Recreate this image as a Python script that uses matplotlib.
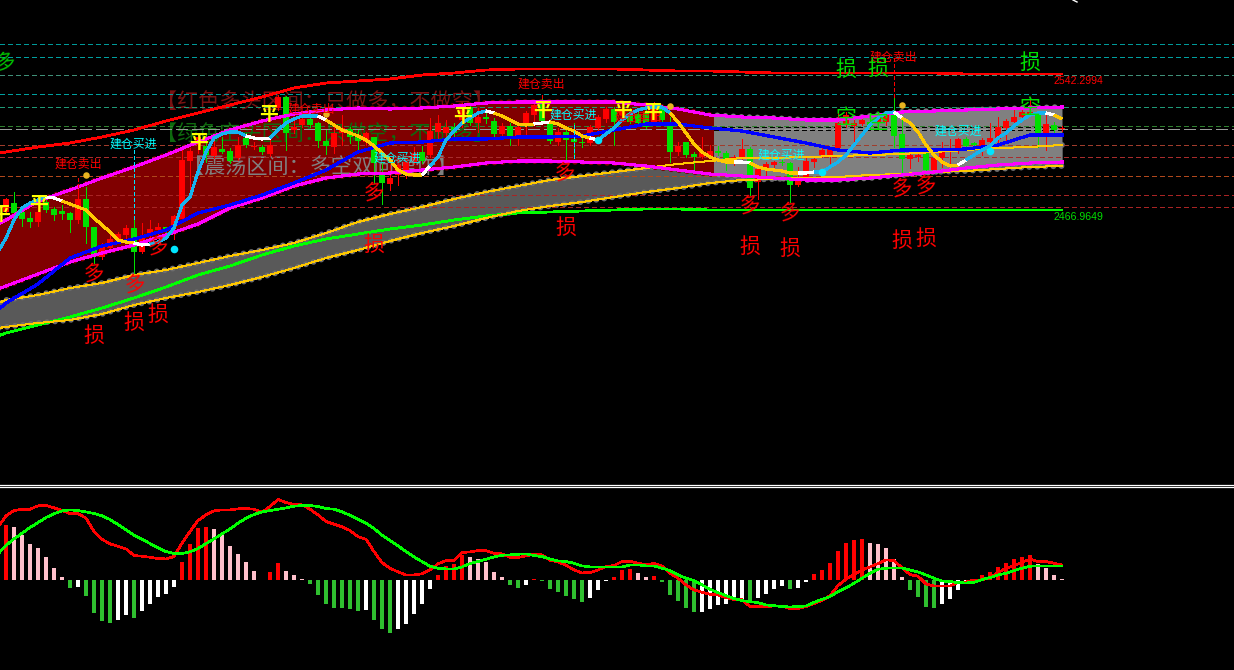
import matplotlib
matplotlib.use("Agg")
import matplotlib.pyplot as plt
import numpy as np
from matplotlib.patches import Rectangle

plt.rcParams['font.family'] = ['Noto Sans CJK SC', 'DejaVu Sans']

# candles, levels are read as rows of the main panel (0 at the top, larger is lower price)
bar_high = [198,192,207,212,197,198,207,205,212,185,187,227,243,235,232,225,220,223,220,223,227,215,150,148,135,135,137,137,148,137,
            133,142,145,138,95,96,120,115,113,122,130,127,115,127,130,132,137,163,165,160,158,147,146,118,115,120,123,103,105,108,
            113,118,123,123,125,111,102,95,120,128,130,123,137,125,115,107,107,107,108,112,108,102,105,117,142,142,152,137,145,146,
            151,155,139,147,168,162,161,159,162,167,158,157,148,147,109,112,118,118,113,112,113,98,118,152,153,152,155,142,139,138,
            137,142,138,123,117,119,110,110,99,112,115,122,126]
bar_top = [199,203,212,218,212,202,209,211,213,199,199,227,245,239,234,228,228,237,229,227,227,216,160,151,137,146,147,149,151,145,
           138,146,147,145,97,97,127,119,119,123,141,133,128,129,137,133,137,174,178,165,162,153,152,131,123,127,127,110,107,117,
           117,121,126,126,127,113,105,102,123,132,132,139,142,127,117,109,109,110,113,114,112,108,108,126,146,142,154,152,151,151,
           153,157,149,149,169,164,162,162,163,180,161,159,150,147,123,115,123,120,122,117,115,113,134,155,155,153,158,152,150,139,
           139,143,140,138,127,121,117,112,112,113,124,125,128]
bar_bot = [212,213,219,222,222,210,215,214,220,220,227,254,257,248,240,235,252,252,236,230,231,227,219,161,145,155,156,152,161,158,
           145,147,152,154,108,133,130,125,125,141,146,147,133,137,141,142,163,183,184,175,172,162,161,155,132,133,133,120,123,123,
           119,134,134,136,136,124,115,121,141,142,140,142,143,143,128,119,122,115,122,123,127,123,120,152,152,155,157,157,156,153,
           159,162,159,188,182,170,165,163,185,185,177,162,155,156,148,125,126,124,127,123,122,136,159,159,157,170,170,158,152,148,
           146,145,147,142,139,128,122,117,115,134,134,130,129]
bar_low = [213,222,226,227,226,212,220,219,232,223,243,263,259,250,243,238,273,253,238,237,239,239,220,193,153,162,158,153,163,160,
           147,149,154,156,110,150,133,127,127,147,154,153,145,143,153,145,183,204,190,185,178,164,163,157,140,140,137,127,125,132,
           123,137,138,145,145,137,123,122,143,145,162,157,147,145,133,122,145,120,123,125,128,125,122,162,155,157,169,158,158,155,
           170,165,163,195,199,175,167,165,202,186,177,167,157,163,150,127,143,125,129,128,125,147,172,168,161,171,172,167,168,153,
           147,147,155,148,148,140,125,118,116,147,150,133,131]
bar_dir = ("rgggrggggr" "ggrrrrgrrr" "grrrrgrggr" "grgrrgrrgg" "grrggrggrr" "rrgrrrgrgr" "ggrgrrrggr"
           "gggrrrgrgg" "grggrggrrg" "grrgrrrggr" "rrrrrrrrgr" "rggrrgrrrr" "ggrrrrrrrg" "rgr")

# slow curves were read every fourth bar
knots = [-1] + list(range(0, 133, 4))
upper_red = [153,152,147,143,137,130,121,113,105,97,88,83,81,79,75,73,70,69,69,69,69,70,71,71,72,73,73,73,73,73,73,74,74,74,74]
lower_green = [336,333,325,317,308,298,287,275,266,255,246,239,234,229,225,220,216,213,212,211,210,209,209,210,210,210,210,210,210,210,210,210,210,210,210]
chan_top = [224,220,201,190,178,167,155,142,130,121,114,110,108,109,108,106,103,102,102,102,102,105,109,115,117,118,120,120,116,112,111,110,109,108,107]
chan_bot = [289,286,274,262,253,245,235,224,208,198,186,178,174,173,170,167,163,161,161,162,163,166,170,174,176,178,180,180,178,175,172,168,165,163,162]
band_top = [303,300,295,288,283,275,270,263,256,250,243,233,222,214,207,199,192,186,180,176,172,168,164,161,158,158,157,156,155,154,152,150,148,147,145]
band_bot = [328,327,323,320,314,305,298,292,285,277,268,258,250,241,233,226,218,211,206,202,197,192,188,183,180,179,178,177,175,174,172,171,169,167,166]
blue_line = [310,303,284,258,246,239,230,213,205,195,183,170,152,143,142,139,139,137,137,136,130,124,124,128,131,137,143,150,153,150,150,149,145,135,135]

osc_line = [238,220,208,203,200,197,198,201,204,207,210,218,225,232,240,242,243,245,244,242,238,228,205,197,172,152,138,134,132,132,
            136,138,139,138,130,123,119,116,116,116,120,125,130,133,136,140,146,153,160,170,174,175,175,166,157,140,131,123,118,113,
            111,113,116,120,124,125,124,123,122,124,128,131,136,138,140,134,128,120,114,110,108,107,107,113,122,133,144,152,157,160,
            162,162,162,163,167,169,170,171,173,173,173,172,172,167,162,155,145,135,125,118,113,112,118,123,132,145,155,162,166,165,
            160,155,150,146,138,133,126,120,115,113,113,115,119]
osc_kind = ("ccccc" "ww" "yyyyyyyyy" "ww" "cccccccccccc" "www" "cccccc" "w" "yyyyyyyyyyyy" "w" "ccccccc" "w" "yyyyy" "ww" "yyyyy"
            "w" "ccccccccc" "yyyyyyyy" "ww" "yyyyyy" "ww" "cccccccccc" "w" "yyyyyyy" "w" "cccccccccc" "w" "yy")

level_rows = [44,57,75,94,107,126,145,157,176,195,207]
level_cols = ['#009a9a','#00a0a0','#3f8f78','#00a0a0','#1f9a78','#2f7f2f','#a03c2c','#a82c2c','#b0481c','#a82424','#a82424']

# MACD panel, heights measured from the zero line
macd_hist = [165,159,135,108,96,69,36,9,-24,-21,-48,-99,-123,-129,-120,-105,-114,-93,-72,-51,-42,-21,54,108,156,159,153,135,102,78,
             54,27,-1,24,51,27,15,2,-12,-45,-72,-84,-84,-87,-93,-90,-120,-147,-159,-147,-132,-102,-72,-27,15,42,48,75,69,63,
             54,24,9,-15,-24,-15,2,-2,-27,-36,-48,-57,-66,-54,-30,-2,9,30,33,21,9,12,-5,-45,-63,-84,-96,-96,-87,-75,
             -72,-57,-57,-60,-54,-42,-27,-18,-27,-24,-5,18,30,51,87,111,120,123,111,108,96,63,9,-30,-51,-81,-84,-72,-57,-30,
             -12,2,15,24,39,51,63,69,75,48,36,15,2]
macd_kind = ("r" "ppppppp" "g" "w" "gggg" "ww" "g" "wwwww" "rrrr" "pppppp" "g" "rr" "ppp" "ggggggg" "w" "ggg" "wwwww" "rrrr" "ppppp" "gg" "w" "r"
             "gggggg" "www" "rrr" "pp" "r" "ggggg" "wwwwww" "g" "wwww" "g" "ww" "rrrrrrr" "ppppp" "gggg" "wwww" "rrrrrrrr" "pppp")
macd_dif = [158,192,208,212,212,222,223,216,208,199,199,185,145,122,108,101,93,73,71,68,64,63,70,110,145,178,195,207,210,210,213,
            214,212,203,220,241,232,226,225,212,195,175,167,159,148,130,122,85,52,35,24,15,15,18,30,48,58,59,82,84,88,
            88,80,78,68,67,72,78,75,59,54,44,30,21,22,30,40,43,55,56,50,46,49,42,20,5,-15,-30,-37,-43,-45,
            -53,-59,-59,-80,-80,-80,-78,-78,-86,-86,-80,-71,-62,-47,-17,2,17,30,39,49,60,58,36,16,11,-12,-18,-18,
            -18,-8,-6,0,0,7,22,35,42,53,62,55,55,50,45]
macd_dea = [78,103,123,140,157,172,187,198,207,210,208,204,199,192,181,166,150,134,122,109,96,85,79,79,84,94,109,123,138,153,170,
            185,196,204,208,212,216,221,223,223,220,214,212,204,194,182,170,154,134,118,102,85,69,55,41,35,33,33,39,49,55,
            62,69,74,75,77,78,73,70,63,57,55,50,42,39,39,39,39,39,45,45,42,42,35,28,15,5,-2,-15,-28,-38,
            -47,-56,-62,-65,-68,-75,-77,-80,-81,-80,-78,-67,-58,-50,-35,-24,-10,5,20,32,35,36,36,30,24,15,5,-3,
            -5,-8,-9,-7,1,7,15,20,28,35,41,42,42,42,42]

# 建仓 signal labels and other chart text: x in picture columns, then main panel row
sell_labels = [(78,164),(311,109),(541,84),(638,117),(893,57)]
buy_labels = [(133,144),(397,158),(573,115),(781,155),(958,131)]
long_marks = [(94,273),(135,284),(158,246),(374,192),(565,172),(750,205),(790,212),(902,188),(926,185)]
stop_red = [(94,336),(134,323),(158,315),(374,245),(566,228),(750,247),(790,249),(902,241),(926,239)]
stop_green = [(846,70),(878,69),(1030,63)]
short_marks = [(846,118),(878,123),(1030,108)]
flat_marks = [(0,214),(38,205),(198,143),(269,115),(462,116),(542,110),(622,110),(653,112)]
sell_dots = [10,40,83,112]
sell_dot_rows = [175,114,106,105]
buy_dots = [21,74,102,123]
buy_dot_rows = [249,140,172,151]

colors = {'r': '#ff0000', 'g': '#00e000'}
hist_colors = {'r': '#ff0000', 'p': '#ffc0cb', 'g': '#2fbf2f', 'w': '#ffffff'}
osc_colors = {'c': '#16b4f0', 'y': '#ffc800', 'w': '#ffffff'}

assert len(bar_high) == len(bar_top) == len(bar_bot) == len(bar_low) == len(bar_dir) == 133, (len(bar_high), len(bar_top), len(bar_bot), len(bar_low), len(bar_dir))
assert len(osc_line) == len(osc_kind) == 133, (len(osc_line), len(osc_kind))
assert len(macd_hist) == len(macd_kind) == 133, (len(macd_hist), len(macd_kind))
assert len(macd_dif) == len(macd_dea) == 134, (len(macd_dif), len(macd_dea))


def bar_pos(px):
    # bars sit 8 picture columns apart, the first one at column 6
    return (px - 6) / 8


fig = plt.figure(figsize=(12.34, 6.70), dpi=100, facecolor='black')
ax = fig.add_axes([0, 185.5 / 670, 1, 484.5 / 670], facecolor='black')
ax2 = fig.add_axes([0, 0, 1, 183.5 / 670], facecolor='black')

ax.set_xlim(bar_pos(0), bar_pos(1234))
ax.set_ylim(484.5, 0)
ax2.set_xlim(bar_pos(0), bar_pos(1234))
ax2.set_ylim(-270, 280)

for a in [ax, ax2]:
    a.set_xticks([])
    a.set_yticks([])
    for s in a.spines.values():
        s.set_visible(False)
ax.spines['bottom'].set_visible(True)
ax.spines['bottom'].set_color('white')
ax.spines['bottom'].set_linewidth(0.9)
ax2.spines['top'].set_visible(True)
ax2.spines['top'].set_color('white')
ax2.spines['top'].set_linewidth(0.9)

# grey band behind the channel
ax.fill_between(knots, band_top, band_bot, color='#595959', lw=0, zorder=1)
for row in [band_top, band_bot]:
    ax.plot(knots, row, color='#6e6e6e', lw=4.2, linestyle=(0, (0.01, 1.37)), dash_capstyle='round', zorder=1)

# channel, dark red then grey from bar 88.5
split = bar_pos(714)
for left, right, col, dot in [(-2, split, '#800000', '#800000'), (split, 134, '#808080', '#808080')]:
    clip = Rectangle((left, 0), right - left, 500, transform=ax.transData)
    poly = ax.fill_between(knots, chan_top, chan_bot, color=col, lw=0, zorder=2)
    poly.set_clip_path(clip)
    for row in [chan_top, chan_bot]:
        ln, = ax.plot(knots, row, color=dot, lw=4.2, linestyle=(0, (0.01, 1.37)), dash_capstyle='round', zorder=2)
        ln.set_clip_path(clip)

# watermark captions
ax.text(bar_pos(156), 103, '【红色多头区间：只做多，不做空】', color='#7a1212', fontsize=15.2, va='center', ha='left', zorder=3)
ax.text(bar_pos(156), 135, '【绿色空头区间：只做空，不做多】', color='#0e6a0e', fontsize=15.2, va='center', ha='left', zorder=3)
ax.text(bar_pos(183), 168, '【震荡区间：多空双向操作】', color='#808080', fontsize=15.2, va='center', ha='left', zorder=3)

# dashed levels
for row, col in zip(level_rows, level_cols):
    ax.plot([bar_pos(0), bar_pos(1234)], [row, row], color=col, lw=0.72, linestyle=(0, (5, 3.5)), zorder=3.2, antialiased=False)
ax.plot([bar_pos(0), bar_pos(1234)], [129, 129], color='#9a9a9a', lw=0.72, linestyle=(0, (11, 5)), zorder=3.2, antialiased=False)
ax.plot([split, bar_pos(1066)], [127, 127], color='black', lw=0.72, linestyle=(0, (5, 3)), zorder=3.3, antialiased=False)
ax.plot([split, bar_pos(1066)], [130, 130], color='black', lw=0.72, linestyle=(0, (5, 3)), zorder=3.3, antialiased=False)

# candles
for i in range(len(bar_high)):
    c = colors[bar_dir[i]]
    ax.plot([i, i], [bar_high[i], bar_low[i]], color=c, lw=0.72, zorder=4, antialiased=False)
    ax.bar(i, bar_bot[i] - bar_top[i], bottom=bar_top[i], width=0.66, color=c, lw=0, zorder=4)

ax.plot(knots, upper_red, color='#ff0000', lw=1.3, zorder=5, antialiased=False)
ax.plot(knots, lower_green, color='#00ff00', lw=1.3, zorder=5, antialiased=False)
ax.plot(knots, band_top, color='#ffc800', lw=0.72, zorder=5, antialiased=False)
ax.plot(knots, band_bot, color='#ffc800', lw=0.72, zorder=5, antialiased=False)
ax.plot(knots, chan_top, color='#ff00ff', lw=1.5, zorder=5, antialiased=False)
ax.plot(knots, chan_bot, color='#ff00ff', lw=1.5, zorder=5, antialiased=False)
ax.plot(knots, blue_line, color='#0000ff', lw=1.6, zorder=5.2, antialiased=False)

# turning line, coloured by state
for i in range(len(osc_line) - 1):
    ax.plot([i, i + 1], [osc_line[i], osc_line[i + 1]], color=osc_colors[osc_kind[i]], lw=1.5,
            solid_capstyle='butt', zorder=5.4, antialiased=False)
ax.plot([-1, 0], [252, osc_line[0]], color=osc_colors['c'], lw=1.5, zorder=5.4, antialiased=False)

# signal stems
stems = [(9, 178, 193, '#ff0000'), (16, 150, 222, '#00e5ff'), (67, 95, 102, '#ff0000'), (71, 125, 160, '#00e5ff'), (111, 58, 100, '#ff0000')]
for bar, y0, y1, col in stems:
    ax.plot([bar, bar], [y0, y1], color=col, lw=0.72, linestyle=(0, (3, 2.5)), zorder=5.5, antialiased=False)

ax.scatter(sell_dots, sell_dot_rows, s=22, color='#e8b420', lw=0, zorder=6)
ax.scatter(buy_dots, buy_dot_rows, s=30, color='#00e5ff', lw=0, zorder=6)

for px, row in sell_labels:
    ax.text(bar_pos(px), row, '建仓卖出', color='#ff0000', fontsize=8.6, ha='center', va='center', zorder=7)
for px, row in buy_labels:
    ax.text(bar_pos(px), row, '建仓买进', color='#00ffff', fontsize=8.6, ha='center', va='center', zorder=7)
for px, row in long_marks:
    ax.text(bar_pos(px), row, '多', color='#ff0000', fontsize=15, ha='center', va='center', rotation=8, zorder=7)
for px, row in stop_red:
    ax.text(bar_pos(px), row, '损', color='#ff0000', fontsize=15, ha='center', va='center', zorder=7)
for px, row in stop_green:
    ax.text(bar_pos(px), row, '损', color='#00e000', fontsize=15, ha='center', va='center', zorder=7)
for px, row in short_marks:
    ax.text(bar_pos(px), row, '空', color='#00e000', fontsize=15, ha='center', va='center', zorder=7)
for px, row in flat_marks:
    ax.text(bar_pos(px), row, '平', color='#ffff00', fontsize=13.5, fontweight='bold', ha='center', va='center', zorder=7)
ax.text(bar_pos(5), 62, '多', color='#00c000', fontsize=15, ha='center', va='center', rotation=8, zorder=7)

ax.text(bar_pos(1053), 81, '2542.2994', color='#ff0000', fontsize=7.6, ha='left', va='center', family=['Liberation Sans'], zorder=7)
ax.text(bar_pos(1053), 217, '2466.9649', color='#00e000', fontsize=7.6, ha='left', va='center', family=['Liberation Sans'], zorder=7)
ax.plot([bar_pos(1073), bar_pos(1077)], [0, 2], color='white', lw=1, zorder=7)

# MACD panel
idx = np.arange(len(macd_hist))
ax2.bar(idx, macd_hist, width=0.38, color=[hist_colors[k] for k in macd_kind], lw=0, zorder=2)
ax2.plot(np.arange(-1, 133), macd_dif, color='#ff0000', lw=1.2, zorder=3, antialiased=False)
ax2.plot(np.arange(-1, 133), macd_dea, color='#00ff00', lw=1.2, zorder=4, antialiased=False)

fig.savefig('out.png', dpi=100, facecolor='black')
